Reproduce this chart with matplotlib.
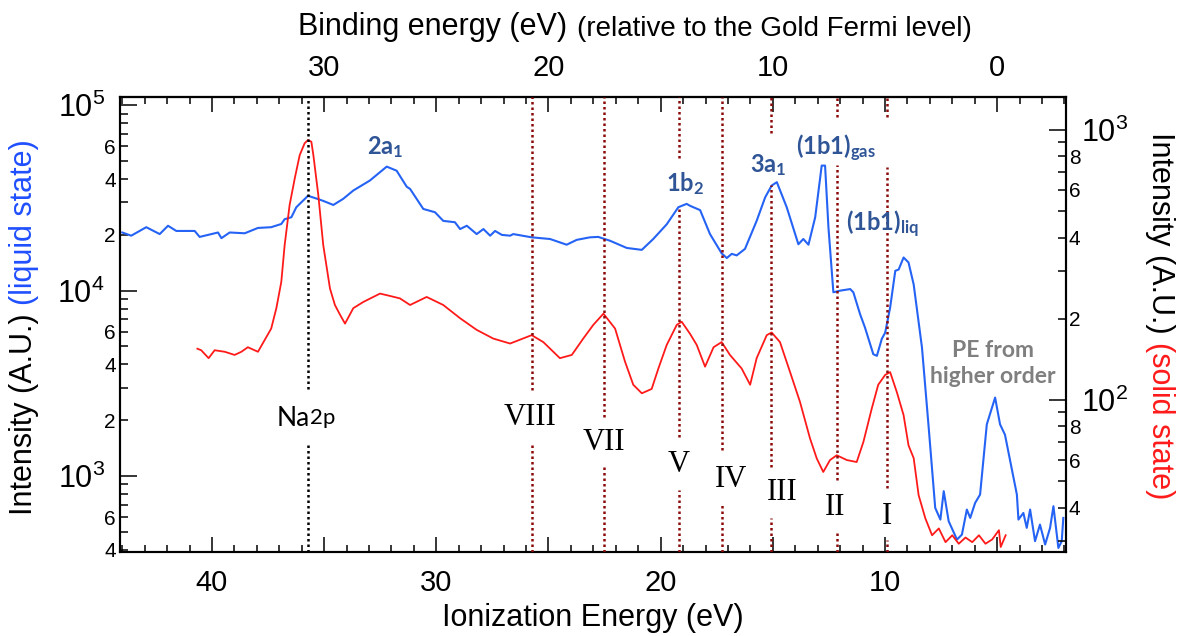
import matplotlib
matplotlib.use('Agg')
import matplotlib.pyplot as plt
from matplotlib.ticker import MultipleLocator, FuncFormatter, LogLocator
import numpy as np

plt.rcParams['font.family'] = ['Liberation Sans', 'DejaVu Sans']

# ---------------- data ----------------
blue_x = [44.0, 43.6, 42.93, 42.33, 41.96, 41.59, 40.77, 40.55, 39.73, 39.58, 39.21, 38.54,
          37.95, 37.36, 36.91, 36.76, 36.46, 36.24, 35.72, 35.27, 35.04, 34.59, 34.15, 33.70,
          32.96, 32.21, 31.77, 31.32, 31.17, 30.58, 30.06, 29.69, 29.17, 28.94, 28.64, 28.20,
          27.90, 27.60, 27.38, 27.08, 26.71, 26.57, 25.75, 24.93, 24.19, 23.74, 23.15, 22.78,
          22.26, 21.51, 20.84, 20.33, 19.73, 19.21, 18.84, 18.69, 18.24, 17.80, 17.28, 17.05,
          16.83, 16.61, 16.24, 15.72, 15.34, 15.05, 14.82, 14.38, 13.86, 13.64, 13.41, 13.11,
          12.82, 12.67, 12.52, 12.30, 12.00, 11.55, 11.41, 11.11, 10.89, 10.52, 10.36, 10.14,
          9.99, 9.77, 9.54, 9.39, 9.17, 8.95, 8.72, 8.35, 8.05, 7.76, 7.53, 7.38, 7.16, 6.79,
          6.57, 6.35, 6.20, 5.98, 5.76, 5.46, 5.09, 4.87, 4.65, 4.12, 4.05, 3.83, 3.68, 3.53,
          3.31, 3.09, 2.86, 2.64, 2.49, 2.27, 2.12, 2.05]
blue_y = [2.06e4, 1.98e4, 2.2e4, 2.02e4, 2.24e4, 2.1e4, 2.1e4, 1.95e4, 2.06e4, 1.92e4, 2.06e4, 2.04e4,
          2.18e4, 2.2e4, 2.29e4, 2.43e4, 2.49e4, 2.82e4, 3.25e4, 3.12e4, 3.05e4, 2.9e4, 3.13e4, 3.47e4,
          3.93e4, 4.67e4, 4.44e4, 3.64e4, 3.54e4, 2.76e4, 2.65e4, 2.38e4, 2.34e4, 2.15e4, 2.24e4, 2.02e4,
          2.15e4, 1.98e4, 2.1e4, 2.0e4, 1.98e4, 2.02e4, 1.94e4, 1.9e4, 1.77e4, 1.88e4, 1.94e4, 1.95e4,
          1.86e4, 1.7e4, 1.66e4, 1.9e4, 2.28e4, 2.82e4, 2.94e4, 2.87e4, 2.72e4, 2.02e4, 1.59e4, 1.5e4,
          1.58e4, 1.55e4, 1.68e4, 2.38e4, 3.19e4, 3.69e4, 3.85e4, 2.82e4, 1.78e4, 1.9e4, 1.77e4, 2.49e4,
          4.73e4, 4.73e4, 2.2e4, 9.8e3, 1.0e4, 1.02e4, 9.8e3, 7.47e3, 6.32e3, 4.54e3, 4.45e3, 5.5e3,
          5.94e3, 8.1e3, 1.28e4, 1.3e4, 1.51e4, 1.42e4, 1.08e4, 4.93e3, 1.82e3, 673, 582, 828, 570, 454,
          483, 659, 594, 716, 794, 1.9e3, 2.65e3, 1.9e3, 1.67e3, 794, 582, 632, 525, 659,
          445, 547, 427, 525, 687, 409, 445, 594]

red_x = [40.65, 40.48, 40.15, 39.88, 39.43, 38.99, 38.69, 38.40, 37.95, 37.65, 37.36, 37.13,
         36.91, 36.76, 36.54, 36.31, 36.09, 35.87, 35.72, 35.57, 35.48, 35.26, 35.04, 34.74,
         34.52, 34.29, 34.07, 33.70, 33.25, 32.51, 32.06, 31.62, 31.17, 30.43, 29.69, 28.94,
         28.20, 27.46, 26.71, 25.75, 25.23, 24.49, 23.96, 23.45, 23.00, 22.55, 22.03, 21.59,
         21.22, 20.84, 20.40, 20.10, 19.73, 19.28, 19.06, 18.69, 18.39, 18.02, 17.64, 17.28,
         16.91, 16.39, 16.01, 15.72, 15.27, 15.05, 14.68, 14.23, 13.79, 13.34, 13.04, 12.75,
         12.45, 12.15, 11.70, 11.26, 10.96, 10.59, 10.30, 9.99, 9.77, 9.47, 9.17, 8.95, 8.72,
         8.50, 8.20, 7.90, 7.60, 7.30, 7.00, 6.71, 6.41, 6.11, 5.81, 5.52, 5.22, 4.92, 4.84, 4.62]
red_y = [155, 153, 143, 153, 151, 147, 151, 157, 151, 167, 184, 219,
         274, 375, 527, 662, 807, 893, 918, 905, 807, 574, 375, 259,
         225, 207, 192, 219, 231, 248, 243, 238, 225, 241, 225, 201,
         182, 169, 162, 174, 164, 143, 147, 169, 190, 209, 184, 139,
         114, 106, 110, 131, 160, 190, 195, 176, 160, 133, 157, 164,
         147, 131, 114, 143, 174, 178, 164, 127, 98.6, 72.1, 60.8, 54.2,
         60, 62.5, 60, 59, 70.1, 93, 114, 124, 127, 107, 88, 68, 61,
         44.5, 36.5, 31.6, 33.5, 29.8, 31.6, 29.4, 31, 29.8, 31.6, 29.4, 30.5, 33, 28.6, 31.6]

# peak markers (ionization energy, eV)
marker_names = ['Na2p', 'VIII', 'VII', 'V', 'IV', 'III', 'II', 'I']
marker_x = [35.71, 25.75, 22.52, 19.18, 17.28, 15.08, 12.15, 9.90]

blue_labels = [r'$\mathregular{2a_{1}}$', r'$\mathregular{1b_{2}}$', r'$\mathregular{3a_{1}}$',
               r'$\mathregular{(1b1)_{gas}}$', r'$\mathregular{(1b1)_{liq}}$']

# ---------------- layout/styles ----------------
BLUE = '#2563f5'
RED = '#ff1a1a'
DRED = '#8b0a0a'
LBLUE = '#2f5597'

fig = plt.figure(figsize=(11.78, 6.36), dpi=100)
ax = fig.add_axes([120/1178, 1-552/636, 946/1178, 455/636])
ax2 = ax.twinx()

ax.plot(blue_x, blue_y, color=BLUE, lw=1.5, zorder=3)
ax2.plot(red_x, red_y, color=RED, lw=1.3, zorder=3)

ax.set_xlim(44.1, 1.93)
ax.set_yscale('log')
ax.set_ylim(389, 1.109e5)
ax2.set_yscale('log')
ax2.set_ylim(27.4, 1325)

# vertical marker lines (segments in axes fraction)
segments = {
    'Na2p': [(0.358, 1.0), (0.0, 0.242)],
    'VIII': [(0.356, 1.0), (0.0, 0.242)],
    'VII': [(0.297, 1.0), (0.0, 0.187)],
    'V': [(0.866, 1.0), (0.253, 0.758), (0.0, 0.136)],
    'IV': [(0.224, 1.0), (0.0, 0.103)],
    'III': [(0.921, 1.0), (0.187, 0.807), (0.0, 0.075)],
    'II': [(0.956, 1.0), (0.158, 0.850), (0.0, 0.044)],
    'I': [(0.956, 1.0), (0.141, 0.846), (0.0, 0.026)],
}
tr = ax2.get_xaxis_transform()
for name, xv in zip(marker_names, marker_x):
    col = 'black' if name == 'Na2p' else DRED
    for y0, y1 in segments[name]:
        ax2.plot([xv, xv], [y0, y1], transform=tr, color=col, lw=1.8,
                 linestyle=(0, (1, 1.2)), zorder=4)

# roman numeral labels
roman_pos = {'VIII': (0.4334, 0.2967), 'VII': (0.5116, 0.2396), 'V': (0.5909, 0.1934),
             'IV': (0.6459, 0.1604), 'III': (0.6998, 0.1297), 'II': (0.7558, 0.0989),
             'I': (0.8108, 0.0791)}
for name in marker_names[1:]:
    px, py = roman_pos[name]
    ax2.text(px, py, name, transform=ax2.transAxes, ha='center', va='center',
             fontsize=22, family='Liberation Serif', color='black', zorder=5)

# Na2p label
ax2.text(0.201, 0.2945, 'Na', transform=ax2.transAxes, ha='right', va='center',
         fontsize=19, family='Lato', color='black')
ax2.text(0.201, 0.2945, '2p', transform=ax2.transAxes, ha='left', va='center',
         fontsize=16, family='Lato', color='black')

# blue assignment labels
blue_pos = [(0.280, 0.890), (0.597, 0.809), (0.685, 0.851), (0.757, 0.888), (0.8055, 0.719)]
for lab, (px, py) in zip(blue_labels, blue_pos):
    ax2.text(px, py, lab, transform=ax2.transAxes, ha='center', va='center',
             fontsize=17, family='Lato', weight='bold', color=LBLUE, zorder=5)

ax2.text(0.923, 0.415, 'PE from\nhigher order', transform=ax2.transAxes, ha='center',
         va='center', fontsize=16.5, family='Lato', weight='bold', color='#7f7f7f',
         linespacing=1.3)

# ---------------- ticks ----------------
def x_fmt(v, pos):
    r = round(v)
    return f'{r:d}' if abs(v - r) < 1e-6 and r % 10 == 0 else ''

ax.xaxis.set_major_locator(MultipleLocator(5))
ax.xaxis.set_minor_locator(MultipleLocator(1))
ax.xaxis.set_major_formatter(FuncFormatter(x_fmt))
ax.tick_params(axis='x', which='major', direction='in', length=11, width=1.1,
               labelsize=21, pad=12, top=False)
ax.tick_params(axis='x', which='minor', direction='in', length=5, width=1.1, top=False)

secax = ax.secondary_xaxis('top', functions=(lambda x: x - 5, lambda x: x + 5))
secax.xaxis.set_major_locator(MultipleLocator(5))
secax.xaxis.set_minor_locator(MultipleLocator(1))
secax.xaxis.set_major_formatter(FuncFormatter(x_fmt))
secax.tick_params(axis='x', which='major', direction='in', length=11, width=1.1,
                  labelsize=21, pad=11)
secax.tick_params(axis='x', which='minor', direction='in', length=5, width=1.1)


def major_log(v, pos):
    e = int(round(np.log10(v)))
    return r'$\mathregular{10^{%d}}$' % e


def minor_left(v, pos):
    m = int(round(v / 10 ** np.floor(np.log10(v) + 1e-9)))
    return str(m) if m in (2, 4, 6) else ''


def minor_right(v, pos):
    m = int(round(v / 10 ** np.floor(np.log10(v) + 1e-9)))
    return str(m) if m in (2, 4, 6, 8) else ''


for a, fmt in ((ax, minor_left), (ax2, minor_right)):
    a.yaxis.set_major_locator(LogLocator(base=10, numticks=20))
    a.yaxis.set_minor_locator(LogLocator(base=10, subs=np.arange(2, 10), numticks=20))
    a.yaxis.set_major_formatter(FuncFormatter(major_log))
    a.yaxis.set_minor_formatter(FuncFormatter(fmt))

ax.tick_params(axis='y', which='major', direction='in', length=12, width=1.1,
               labelsize=22, pad=11, right=False)
ax.tick_params(axis='y', which='minor', direction='in', length=6, width=1.1,
               labelsize=15, pad=3, right=False)
ax2.tick_params(axis='y', which='major', direction='in', length=12, width=1.1,
                labelsize=22, pad=11, left=False)
ax2.tick_params(axis='y', which='minor', direction='in', length=6, width=1.1,
                labelsize=15, pad=2, left=False)

for a in (ax, ax2):
    for s in a.spines.values():
        s.set_linewidth(1.5)
secax.spines['top'].set_linewidth(1.5)

# ---------------- axis titles ----------------
fig.text(593/1178, 1 - 626/636, 'Ionization Energy (eV)', ha='center', va='baseline',
         fontsize=22)

t_top = fig.text(298/1178, 1 - 35/636, 'Binding energy (eV)', ha='left', va='baseline',
                 fontsize=22)
fig.canvas.draw()
ax.annotate('(relative to the Gold Fermi level)', xy=(1, 0), xycoords=t_top,
            xytext=(7, 0), textcoords='offset points', ha='left', va='bottom',
            fontsize=20, annotation_clip=False)

t_l = fig.text(24/1178, 1 - 515/636, 'Intensity (A.U.)', rotation=90, ha='center',
               va='bottom', fontsize=22)
ax.annotate('(liquid state)', xy=(0.5, 1), xycoords=t_l, xytext=(0, 6),
            textcoords='offset points', rotation=90, ha='center', va='bottom',
            fontsize=22, color='#1f4fff', annotation_clip=False)

t_r = fig.text(1160/1178, 1 - 132/636, 'Intensity (A.U.)', rotation=270, ha='center',
               va='top', fontsize=22)
ax.annotate('(solid state)', xy=(0.5, 0), xycoords=t_r, xytext=(0, -6),
            textcoords='offset points', rotation=270, ha='center', va='top',
            fontsize=22, color=RED, annotation_clip=False)

fig.savefig('out.png', dpi=100)
